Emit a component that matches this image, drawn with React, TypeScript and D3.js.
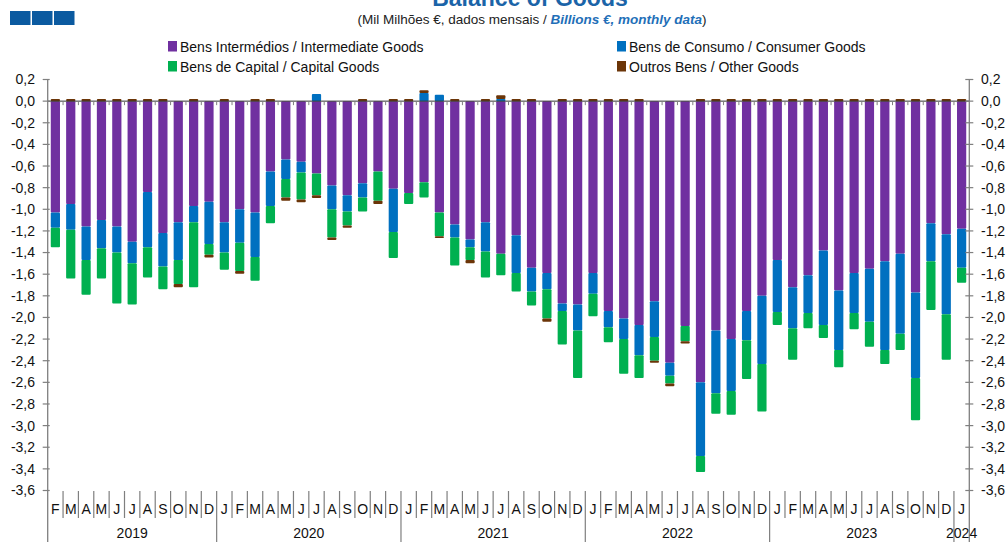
import React, { useEffect, useRef } from 'react';
import * as d3 from 'd3';

// Feb 2019 .. Jan 2024, billions of euro
const monthLetters = ['J', 'F', 'M', 'A', 'M', 'J', 'J', 'A', 'S', 'O', 'N', 'D'];
const firstMonth = 1; // February
const firstYear = 2019;

const intermediate = [
  -1.03, -0.95, -1.16, -1.10, -1.16, -1.30, -0.84, -1.22, -1.12, -0.97, -0.93,
  -1.12, -1.00, -1.03, -0.65, -0.54, -0.56, -0.67, -0.78, -0.87, -0.76, -0.65, -0.81,
  -0.85, -0.75, -1.03, -1.14, -1.28, -1.12, -1.41, -1.24, -1.54, -1.59, -1.87, -1.88,
  -1.59, -1.94, -2.01, -2.07, -1.85, -2.42, -2.08, -2.60, -2.12, -2.20, -1.94, -1.80,
  -1.47, -1.72, -1.61, -1.38, -1.75, -1.59, -1.55, -1.48, -1.41, -1.77, -1.13, -1.23,
  -1.18,
];
const consumer = [
  -0.14, -0.24, -0.31, -0.26, -0.24, -0.20, -0.51, -0.31, -0.35, -0.15, -0.39,
  -0.28, -0.31, -0.41, -0.32, -0.18, -0.10, 0.065, -0.22, -0.15, -0.13, 0, -0.40,
  0, 0.075, 0.06, -0.12, -0.07, -0.27, 0.02, -0.35, -0.22, -0.15, -0.07, -0.24,
  -0.19, -0.15, -0.19, -0.28, -0.33, -0.12, 0, -0.68, -0.58, -0.48, -0.27, -0.63,
  -0.48, -0.38, -0.35, -0.69, -0.55, -0.37, -0.49, -0.82, -0.74, -0.79, -0.35, -0.74,
  -0.36,
];
const capital = [
  -0.18, -0.45, -0.32, -0.28, -0.47, -0.38, -0.28, -0.21, -0.22, -0.60, -0.10,
  -0.16, -0.26, -0.22, -0.16, -0.17, -0.25, -0.20, -0.26, -0.13, -0.13, -0.27, -0.24,
  -0.10, -0.14, -0.22, -0.26, -0.12, -0.24, -0.20, -0.17, -0.13, -0.27, -0.31, -0.44,
  -0.21, -0.14, -0.32, -0.21, -0.22, -0.07, -0.14, -0.15, -0.19, -0.22, -0.36, -0.44,
  -0.12, -0.29, -0.14, -0.12, -0.16, -0.15, -0.23, -0.13, -0.15, -0.39, -0.45, -0.42,
  -0.14,
];
const other = [
  0.02, 0.02, 0.02, 0.02, 0.02, 0.02, 0.02, 0.02, -0.03, 0.02, -0.025,
  0.02, -0.025, 0.02, 0.02, -0.03, -0.025, -0.025, -0.025, -0.02, 0.02, -0.03, 0.02,
  0.02, 0.025, -0.015, 0.02, -0.03, 0.02, 0.035, 0.02, 0.02, -0.03, 0.02, 0.02,
  0.02, 0.02, 0.02, 0.02, -0.02, -0.025, -0.02, 0.02, 0.02, 0.02, 0.02, 0.02,
  0.02, 0.02, 0.02, 0.02, 0.02, 0.02, 0.02, 0.02, 0.02, 0.02, 0.02, 0.02,
  0.02,
];

const seriesKeys = ['intermediate', 'consumer', 'capital', 'other'];
const seriesLabels = [
  'Bens Intermédios / Intermediate Goods',
  'Bens de Consumo / Consumer Goods',
  'Bens de Capital / Capital Goods',
  'Outros Bens / Other Goods',
];
const seriesColors = ['#7030A0', '#0070C0', '#00B050', '#6B3508'];
const yTicks = d3.range(-3.6, 0.21, 0.2).map(v => Math.round(v * 10) / 10);

const W = 1007;
const H = 542;

export default function App() {
  const svgRef = useRef<SVGSVGElement>(null);

  useEffect(() => {
    if (!svgRef.current) return;
    const svg = d3.select(svgRef.current);
    svg.selectAll('*').remove();

    const font = '"Liberation Sans", Arial, sans-serif';
    const n = intermediate.length;
    const rows = d3.range(n).map(i => ({
      idx: i,
      intermediate: intermediate[i],
      consumer: consumer[i],
      capital: capital[i],
      other: other[i],
    }));

    const left = 47.7;
    const right = 969.3;
    const x = d3.scaleBand<number>()
      .domain(d3.range(n))
      .range([left, right])
      .paddingInner(0.4)
      .paddingOuter(0.2);
    const step = x.step();
    const edge = (i: number) => x(i)! - step * 0.2;

    const y = d3.scaleLinear().domain([-3.6, 0.2]).range([490.5, 79.5]);

    const stack = d3.stack<any>().keys(seriesKeys).offset(d3.stackOffsetDiverging);
    const stacked = stack(rows);

    // title (cut at the top of the picture, as in the source)
    svg.append('text')
      .attr('x', 530).attr('y', 6)
      .attr('text-anchor', 'middle')
      .style('font-family', font).style('font-size', '23px').style('font-weight', 'bold')
      .style('fill', '#1B64A8')
      .text('Balance of Goods');

    // blue squares top-left
    [10, 32, 54].forEach(sx => {
      svg.append('rect').attr('x', sx).attr('y', 11).attr('width', 20.5).attr('height', 14)
        .attr('fill', '#0B5AA0');
    });

    const sub = svg.append('text')
      .attr('x', 532).attr('y', 24)
      .attr('text-anchor', 'middle')
      .style('font-family', font).style('font-size', '13.5px').style('fill', '#222');
    sub.append('tspan').text('(Mil Milhões €, dados mensais / ');
    sub.append('tspan').style('font-style', 'italic').style('font-weight', 'bold')
      .style('fill', '#1F6FB8').text('Billions €, monthly data');
    sub.append('tspan').text(')');

    // legend
    const legendPos = [
      [168, 41], [617, 41], [168, 61], [617, 61],
    ];
    seriesLabels.forEach((label, i) => {
      const [lx, ly] = legendPos[i];
      svg.append('rect').attr('x', lx).attr('y', ly).attr('width', 9).attr('height', 10.5)
        .attr('fill', seriesColors[i]);
      svg.append('text').attr('x', lx + 12).attr('y', ly + 10.5)
        .style('font-family', font).style('font-size', '14px').style('fill', '#111')
        .text(label);
    });

    // bars
    stacked.forEach((layer, k) => {
      svg.append('g')
        .selectAll('rect')
        .data(layer)
        .enter()
        .append('rect')
        .attr('x', (d: any) => x(d.data.idx)!)
        .attr('width', x.bandwidth())
        .attr('y', d => y(Math.max(d[0], d[1])))
        .attr('height', d => Math.abs(y(d[0]) - y(d[1])))
        .attr('rx', 1)
        .attr('fill', seriesColors[k]);
    });

    const axisColor = '#7F7F7F';

    // zero line with category ticks
    svg.append('line').attr('x1', left).attr('x2', right)
      .attr('y1', y(0)).attr('y2', y(0)).attr('stroke', '#333').attr('stroke-width', 1);
    svg.append('g').selectAll('line').data(d3.range(1, n)).enter().append('line')
      .attr('x1', d => edge(d)).attr('x2', d => edge(d))
      .attr('y1', y(0)).attr('y2', y(0) + 4)
      .attr('stroke', axisColor);

    // vertical axes
    [left, right].forEach(ax => {
      svg.append('line').attr('x1', ax).attr('x2', ax).attr('y1', y(0.2)).attr('y2', H)
        .attr('stroke', axisColor).attr('stroke-width', 1.3);
    });

    const fmt = (v: number) => d3.format('.1f')(v).replace('.', ',').replace('−', '-');
    yTicks.forEach(t => {
      svg.append('line').attr('x1', left - 5).attr('x2', left + 2)
        .attr('y1', y(t)).attr('y2', y(t)).attr('stroke', axisColor).attr('stroke-width', 1.2);
      svg.append('line').attr('x1', right - 4).attr('x2', right + 4)
        .attr('y1', y(t)).attr('y2', y(t)).attr('stroke', axisColor).attr('stroke-width', 1.2);
      svg.append('text').attr('x', 35).attr('y', y(t)).attr('dy', '0.35em')
        .attr('text-anchor', 'end')
        .style('font-family', font).style('font-size', '14px').style('fill', '#111')
        .text(fmt(t));
      svg.append('text').attr('x', 981).attr('y', y(t)).attr('dy', '0.35em')
        .style('font-family', font).style('font-size', '14px').style('fill', '#111')
        .text(fmt(t));
    });

    // month labels and separators
    const monthOf = (i: number) => (firstMonth + i) % 12;
    svg.append('g').selectAll('text').data(rows).enter().append('text')
      .attr('x', d => x(d.idx)! + x.bandwidth() / 2)
      .attr('y', 514)
      .attr('text-anchor', 'middle')
      .style('font-family', font).style('font-size', '14px').style('fill', '#111')
      .text(d => monthLetters[monthOf(d.idx)]);
    svg.append('g').selectAll('line').data(d3.range(1, n)).enter().append('line')
      .attr('x1', d => edge(d)).attr('x2', d => edge(d))
      .attr('y1', 491)
      .attr('y2', d => (monthOf(d) === 0 ? H : 518))
      .attr('stroke', axisColor).attr('stroke-width', 1.2);

    // year labels
    const years = d3.groups(rows, d => firstYear + Math.floor((firstMonth + d.idx) / 12));
    years.forEach(([yr, items]) => {
      const a = edge(items[0].idx);
      const b = edge(items[items.length - 1].idx) + step;
      svg.append('text').attr('x', (a + b) / 2).attr('y', 538)
        .attr('text-anchor', 'middle')
        .style('font-family', font).style('font-size', '14px').style('fill', '#111')
        .text(String(yr));
    });
  }, []);

  return (
    <div style={{ position: 'absolute', left: 0, top: 0, width: W, height: H, background: '#fff' }}>
      <svg ref={svgRef} width={W} height={H} style={{ display: 'block', overflow: 'hidden' }} />
    </div>
  );
}
